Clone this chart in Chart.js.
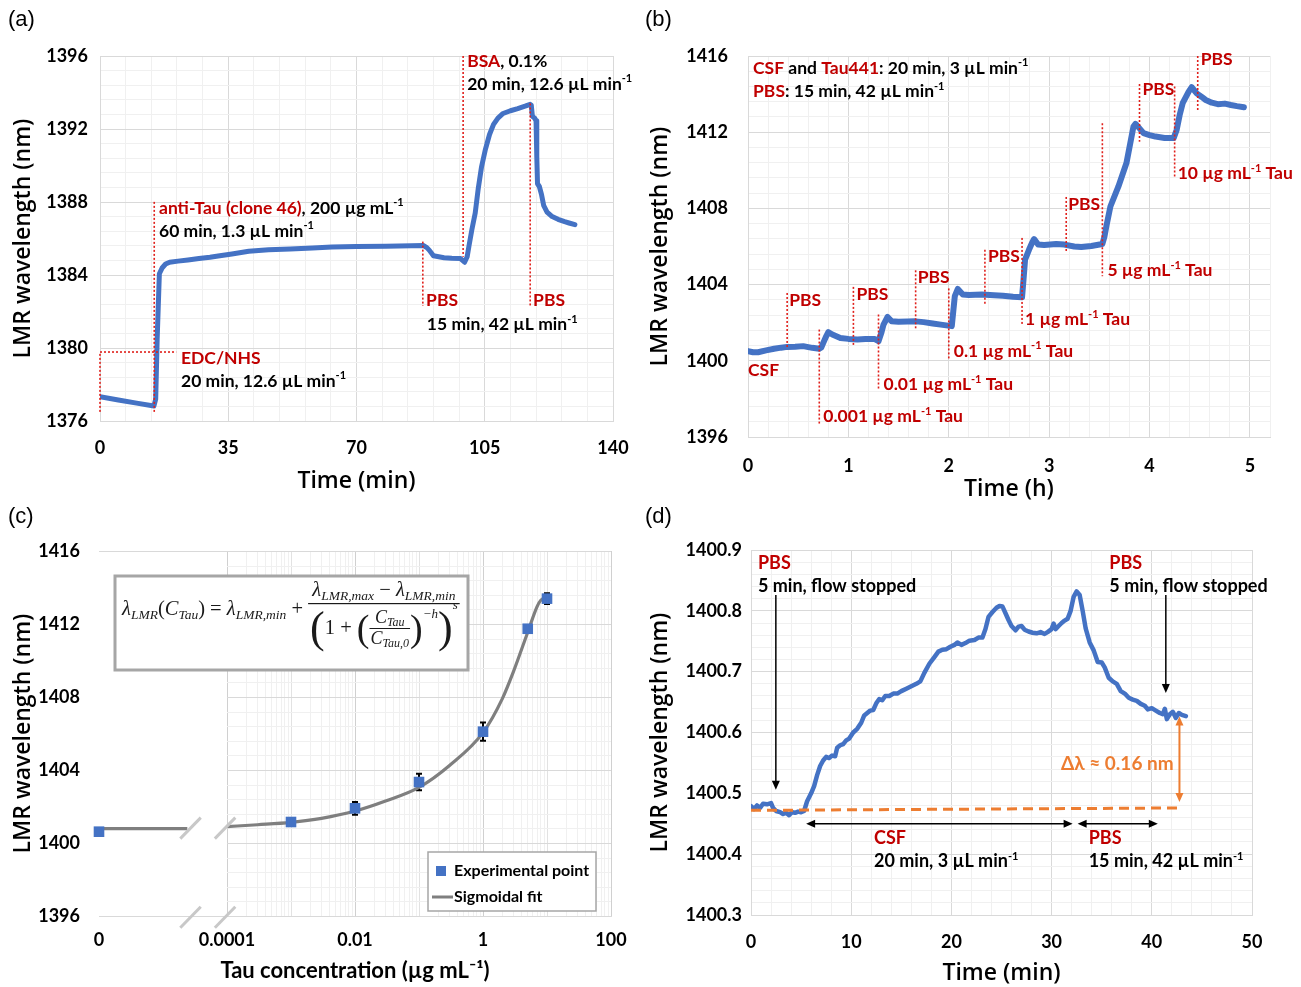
<!DOCTYPE html>
<html>
<head>
<meta charset="utf-8">
<title>LMR sensor response to Tau</title>
<script src="https://cdn.jsdelivr.net/npm/chart.js@4.4.1/dist/chart.umd.min.js"></script>
<style>
  body { margin: 0; background: #fff; }
  #page { position: relative; width: 1301px; height: 987px; overflow: hidden; background: #fff; }
  canvas { position: absolute; }
  .tag { position: absolute; font: 22px "Liberation Sans", Arial, sans-serif; color: #000; }
</style>
</head>
<body>
<div id="page">
  <canvas id="chartA" width="650" height="500" style="left:0;top:0"></canvas>
  <canvas id="chartB" width="654" height="503" style="left:647px;top:0"></canvas>
  <canvas id="chartC" width="650" height="492" style="left:0;top:495px"></canvas>
  <canvas id="chartD" width="654" height="492" style="left:647px;top:495px"></canvas>
  <div class="tag" style="left:8px;top:6px">(a)</div>
  <div class="tag" style="left:645px;top:6px">(b)</div>
  <div class="tag" style="left:8px;top:503px">(c)</div>
  <div class="tag" style="left:645px;top:503px">(d)</div>
</div>
<script>
// (a) functionalisation: EDC/NHS, anti-Tau, PBS, BSA, PBS
var timeA = [0, 5, 10, 14.7, 15.2, 15.6, 16.2, 17, 17.9, 19, 21.3, 24, 27, 30, 32.7, 36, 40.6, 46, 51.9, 58, 63.3, 70, 78, 85, 88.2, 89.2, 89.9, 91, 93.9, 96, 98.4, 99.5, 100.2, 100.7, 101.5, 102.4, 103.2, 104.1, 105.2, 106.3, 107.4, 108.6, 110, 112, 114, 116, 117.4, 117.7, 118, 118.6, 119, 119.2, 119.4, 119.9, 120.5, 121.1, 122, 123.4, 125, 126.8, 128, 129.6];
var lmrA = [1377.33, 1377.15, 1376.98, 1376.82, 1377.2, 1380.5, 1384.07, 1384.4, 1384.6, 1384.7, 1384.76, 1384.82, 1384.9, 1384.97, 1385.05, 1385.15, 1385.3, 1385.38, 1385.43, 1385.48, 1385.53, 1385.56, 1385.58, 1385.6, 1385.62, 1385.5, 1385.35, 1385.05, 1384.95, 1384.92, 1384.9, 1384.7, 1385.0, 1385.6, 1386.5, 1387.4, 1388.7, 1389.9, 1390.9, 1391.7, 1392.25, 1392.6, 1392.85, 1393.0, 1393.12, 1393.25, 1393.35, 1393.3, 1392.7, 1392.6, 1392.45, 1390.5, 1389.0, 1388.85, 1388.4, 1387.8, 1387.45, 1387.2, 1387.05, 1386.92, 1386.85, 1386.76];

// (b) Tau in CSF, increasing concentration steps
var timeB = [0, 0.05, 0.1, 0.18, 0.26, 0.33, 0.39, 0.47, 0.55, 0.6, 0.64, 0.71, 0.73, 0.75, 0.78, 0.8, 0.84, 0.92, 1.0, 1.09, 1.17, 1.26, 1.3, 1.33, 1.35, 1.39, 1.43, 1.5, 1.59, 1.67, 1.75, 1.84, 1.92, 2.03, 2.045, 2.06, 2.09, 2.14, 2.2, 2.33, 2.45, 2.54, 2.64, 2.73, 2.745, 2.76, 2.8, 2.83, 2.85, 2.89, 2.95, 3.07, 3.15, 3.25, 3.32, 3.42, 3.53, 3.55, 3.57, 3.61, 3.69, 3.77, 3.84, 3.86, 3.9, 3.94, 4.0, 4.06, 4.15, 4.24, 4.27, 4.3, 4.33, 4.39, 4.42, 4.47, 4.52, 4.56, 4.62, 4.68, 4.75, 4.81, 4.87, 4.94];
var lmrB = [1400.51, 1400.45, 1400.45, 1400.55, 1400.63, 1400.69, 1400.73, 1400.74, 1400.77, 1400.72, 1400.68, 1400.63, 1400.7, 1400.94, 1401.3, 1401.5, 1401.38, 1401.2, 1401.15, 1401.12, 1401.14, 1401.15, 1401.03, 1401.5, 1401.9, 1402.3, 1402.08, 1402.05, 1402.06, 1402.07, 1402.03, 1401.96, 1401.9, 1401.82, 1402.6, 1403.39, 1403.77, 1403.48, 1403.45, 1403.48, 1403.44, 1403.42, 1403.36, 1403.33, 1404.3, 1405.31, 1405.84, 1406.2, 1406.39, 1406.1, 1406.08, 1406.13, 1406.1, 1406.0, 1405.97, 1406.03, 1406.13, 1406.5, 1407.06, 1408.1, 1409.15, 1410.38, 1412.3, 1412.44, 1412.2, 1411.95, 1411.85, 1411.77, 1411.7, 1411.69, 1412.12, 1412.9, 1413.52, 1414.13, 1414.36, 1414.04, 1413.85, 1413.69, 1413.55, 1413.47, 1413.5, 1413.43, 1413.37, 1413.31];

// (c) calibration: concentration (µg/mL), mean shift, error
var tauConc = [0, 0.001, 0.01, 0.1, 1, 5, 10];
var lmrMean = [1400.62, 1401.15, 1401.9, 1403.34, 1406.1, 1411.74, 1413.39];
var lmrErr = [0.1, 0.1, 0.35, 0.45, 0.5, 0.15, 0.3];
var fitConc = [0.0001, 0.0003, 0.001, 0.003, 0.01, 0.03, 0.1, 0.3, 1, 2, 3, 5, 7, 8, 10];
var fitLmr = [1400.9, 1401.0, 1401.13, 1401.35, 1401.75, 1402.3, 1403.05, 1404.25, 1406.05, 1407.9, 1409.4, 1411.55, 1412.95, 1413.3, 1413.45];
var fitZero = 1400.79;
var concTickValues = [0, 0.0001, 0.01, 1, 100];
var concTickLabels = ['0', '0.0001', '0.01', '1', '100'];

// (d) blank CSF injection
var timeD = [0, 0.3, 0.6, 0.9, 1.2, 1.6, 2.0, 2.2, 2.5, 2.9, 3.2, 3.5, 3.8, 4.1, 4.4, 4.7, 5.0, 5.3, 5.6, 6.0, 6.3, 6.6, 6.9, 7.2, 7.5, 7.8, 8.1, 8.4, 8.6, 8.9, 9.2, 9.5, 9.8, 10.2, 10.6, 11.0, 11.3, 11.6, 11.9, 12.2, 12.5, 12.8, 13.1, 13.4, 13.8, 14.2, 14.6, 15.0, 15.5, 16.0, 16.5, 16.9, 17.3, 17.8, 18.3, 18.7, 19.1, 19.5, 19.9, 20.3, 20.6, 21.0, 21.4, 21.8, 22.3, 22.7, 23.1, 23.4, 23.7, 24.1, 24.5, 24.8, 25.1, 25.4, 25.7, 26.0, 26.4, 26.7, 27.0, 27.3, 27.7, 28.1, 28.5, 28.9, 29.3, 29.6, 30.0, 30.2, 30.4, 30.7, 31.0, 31.3, 31.6, 31.9, 32.2, 32.5, 32.8, 33.1, 33.4, 33.8, 34.2, 34.6, 35.0, 35.3, 35.7, 36.1, 36.5, 36.9, 37.3, 37.7, 38.1, 38.5, 38.9, 39.3, 39.6, 40.0, 40.4, 40.8, 41.1, 41.3, 41.5, 41.8, 42.1, 42.4, 42.7, 43.0, 43.4];
var lmrD = [1400.479, 1400.474, 1400.480, 1400.476, 1400.483, 1400.482, 1400.484, 1400.476, 1400.471, 1400.469, 1400.466, 1400.468, 1400.464, 1400.469, 1400.468, 1400.470, 1400.469, 1400.471, 1400.487, 1400.500, 1400.512, 1400.530, 1400.545, 1400.554, 1400.560, 1400.558, 1400.562, 1400.561, 1400.575, 1400.579, 1400.581, 1400.587, 1400.590, 1400.600, 1400.606, 1400.616, 1400.628, 1400.632, 1400.636, 1400.637, 1400.648, 1400.655, 1400.653, 1400.660, 1400.660, 1400.664, 1400.664, 1400.668, 1400.672, 1400.676, 1400.680, 1400.684, 1400.698, 1400.713, 1400.724, 1400.733, 1400.736, 1400.737, 1400.741, 1400.744, 1400.748, 1400.744, 1400.747, 1400.751, 1400.752, 1400.756, 1400.756, 1400.770, 1400.790, 1400.798, 1400.805, 1400.808, 1400.807, 1400.796, 1400.785, 1400.775, 1400.768, 1400.774, 1400.775, 1400.769, 1400.766, 1400.764, 1400.763, 1400.765, 1400.762, 1400.765, 1400.770, 1400.779, 1400.770, 1400.775, 1400.780, 1400.784, 1400.787, 1400.800, 1400.823, 1400.832, 1400.826, 1400.800, 1400.771, 1400.748, 1400.735, 1400.716, 1400.715, 1400.707, 1400.690, 1400.684, 1400.680, 1400.668, 1400.664, 1400.657, 1400.654, 1400.652, 1400.647, 1400.644, 1400.638, 1400.640, 1400.636, 1400.632, 1400.630, 1400.639, 1400.622, 1400.630, 1400.634, 1400.624, 1400.632, 1400.629, 1400.627];
var baseTime = [0, 43];
var baseLmr = [1400.472, 1400.476];
var deltaLambda = 0.16;

Chart.defaults.animation = false;
Chart.defaults.plugins.legend.display = false;
Chart.defaults.plugins.tooltip.enabled = false;
Chart.defaults.color = '#000';

var BLUE = '#4472C4', RED = '#C00000', DOT_RED = '#E0201B', ORANGE = '#ED7D31', INK = '#000';
var GRID_MAJOR = '#d9d9d9', GRID_MINOR = '#f0f0f0';
var tickFont = {family: 'Lato', size: 18, weight: 'bold'};
var titleFont = {family: '"Open Sans"', size: 23, weight: '600'};

function xy(xs, ys) { return xs.map(function(x, i){ return {x: x, y: ys[i]}; }); }
function onStep(v, base, every) { var k = (v - base) / every; return Math.abs(k - Math.round(k)) < 1e-6; }

// linear axis with a minor grid every `step` and labels every `every`
function axis(min, max, step, every, fmt, pad, size, title, tpad) {
    return {
        type: 'linear', min: min, max: max,
        afterFit: function(s){ if (s.isHorizontal()) s.height = size; else s.width = size; },
        ticks: {stepSize: step, autoSkip: false, maxRotation: 0, padding: pad, font: tickFont, color: INK,
            callback: function(v){ return onStep(v, min, every) ? fmt(v) : ''; }},
        grid: {drawTicks: false, color: function(c){ return onStep(c.tick.value, min, every) ? GRID_MAJOR : GRID_MINOR; }},
        border: {color: GRID_MAJOR},
        title: {display: true, text: title, font: titleFont, color: INK, padding: tpad}
    };
}

function trace(points, width) {
    return {data: points, showLine: true, borderColor: BLUE, borderWidth: width, pointRadius: 0,
        borderJoinStyle: 'round', borderCapStyle: 'round', tension: 0};
}

function overlay(draw) {
    return {id: 'notes', afterDatasetsDraw: function(chart){ var ctx = chart.ctx; ctx.save(); draw(chart, ctx); ctx.restore(); }};
}

function X(chart, v) { return chart.scales.x.getPixelForValue(v); }
function Y(chart, v) { return chart.scales.y.getPixelForValue(v); }

function dotted(chart, ctx, x0, y0, x1, y1) {
    ctx.save();
    ctx.strokeStyle = DOT_RED; ctx.lineWidth = 1.6; ctx.setLineDash([2, 2]);
    ctx.beginPath(); ctx.moveTo(X(chart, x0), Y(chart, y0)); ctx.lineTo(X(chart, x1), Y(chart, y1)); ctx.stroke();
    ctx.restore();
}

// text runs: [text, colour, superscript?], anchored by left edge / vertical centre
var noteSize = 17.5;
function write(chart, ctx, x, y, runs, size) {
    size = size || noteSize;
    var px = X(chart, x), py = Y(chart, y);
    ctx.textBaseline = 'middle'; ctx.textAlign = 'left';
    runs.forEach(function(r){
        var s = r[2] ? Math.round(size * 0.62) : size;
        ctx.font = 'bold ' + s + 'px Lato';
        ctx.fillStyle = r[1];
        ctx.fillText(r[0], px, r[2] ? py - size * 0.3 : py);
        px += ctx.measureText(r[0]).width;
    });
    return px;
}
function perMin(text) { return [[text, INK], ['-1', INK, 1]]; }
function tauLabel(conc) { return [[conc + ' µg mL', RED], ['-1', RED, 1], [' Tau', RED]]; }

function arrow(ctx, x0, y0, x1, y1, color, lw, both) {
    var a = Math.atan2(y1 - y0, x1 - x0), L = 9, W = 4;
    ctx.strokeStyle = color; ctx.fillStyle = color; ctx.lineWidth = lw;
    function head(x, y, ang) {
        ctx.beginPath(); ctx.moveTo(x, y);
        ctx.lineTo(x - L * Math.cos(ang) + W * Math.sin(ang), y - L * Math.sin(ang) - W * Math.cos(ang));
        ctx.lineTo(x - L * Math.cos(ang) - W * Math.sin(ang), y - L * Math.sin(ang) + W * Math.cos(ang));
        ctx.closePath(); ctx.fill();
    }
    var sx = both ? x0 + 6 * Math.cos(a) : x0, sy = both ? y0 + 6 * Math.sin(a) : y0;
    ctx.beginPath(); ctx.moveTo(sx, sy); ctx.lineTo(x1 - 6 * Math.cos(a), y1 - 6 * Math.sin(a)); ctx.stroke();
    head(x1, y1, a);
    if (both) head(x0, y0, a + Math.PI);
}

/* ---------- (a) ---------- */
new Chart(document.getElementById('chartA'), {
    type: 'scatter',
    data: {datasets: [trace(xy(timeA, lmrA), 5)]},
    options: {
        responsive: false,
        layout: {padding: {top: 56, right: 37, left: 0, bottom: 0}},
        scales: {
            x: axis(0, 140, 7, 35, function(v){ return v; }, 16, 79, 'Time (min)', {top: 0, bottom: 5}),
            y: axis(1376, 1396, 0.8, 4, function(v){ return v; }, 12, 100, 'LMR wavelength (nm)', {top: 10, bottom: 0})
        }
    },
    plugins: [overlay(function(c, ctx){
        dotted(c, ctx, 0, 1376.5, 0, 1379.78);
        dotted(c, ctx, 0, 1379.78, 20.8, 1379.78);
        dotted(c, ctx, 14.8, 1376.5, 14.8, 1388.1);
        dotted(c, ctx, 88.1, 1385.83, 88.1, 1382.3);
        dotted(c, ctx, 99.1, 1396, 99.1, 1385.0);
        dotted(c, ctx, 117.4, 1393.4, 117.4, 1382.3);
        write(c, ctx, 16.1, 1387.67, [['anti-Tau (clone 46)', RED], [', 200 µg mL', INK], ['-1', INK, 1]]);
        write(c, ctx, 16.1, 1386.41, perMin('60 min, 1.3 µL min'));
        write(c, ctx, 22.1, 1379.45, [['EDC/NHS', RED]]);
        write(c, ctx, 22.1, 1378.19, perMin('20 min, 12.6 µL min'));
        write(c, ctx, 89.0, 1382.63, [['PBS', RED]]);
        write(c, ctx, 118.2, 1382.63, [['PBS', RED]]);
        write(c, ctx, 89.2, 1381.3, perMin('15 min, 42 µL min'));
        write(c, ctx, 100.2, 1395.73, [['BSA', RED], [', 0.1%', INK]]);
        write(c, ctx, 100.2, 1394.47, perMin('20 min, 12.6 µL min'));
    })]
});

/* ---------- (b) ---------- */
var injB = [[0.39, 1403.56, 1400.73], [0.71, 1401.64, 1396.66], [1.05, 1403.88, 1400.77], [1.30, 1402.43, 1398.5],
    [1.67, 1404.75, 1401.68], [2.00, 1403.8, 1400.12], [2.36, 1405.83, 1403.0], [2.73, 1406.45, 1401.9],
    [3.17, 1408.6, 1405.75], [3.53, 1412.47, 1404.44], [3.90, 1414.53, 1411.5], [4.25, 1414.4, 1409.6], [4.48, 1416, 1413.1]];

new Chart(document.getElementById('chartB'), {
    type: 'scatter',
    data: {datasets: [trace(xy(timeB, lmrB), 6)]},
    options: {
        responsive: false,
        layout: {padding: {top: 56, right: 31, left: 0, bottom: 0}},
        scales: {
            x: axis(0, 5.2, 0.2, 1, function(v){ return v; }, 18, 66, 'Time (h)', {top: 0, bottom: 0}),
            y: axis(1396, 1416, 0.8, 4, function(v){ return v; }, 20, 101, 'LMR wavelength (nm)', {top: 0, bottom: 0})
        }
    },
    plugins: [overlay(function(c, ctx){
        injB.forEach(function(l){ dotted(c, ctx, l[0], l[1], l[0], l[2]); });
        write(c, ctx, 0.05, 1415.37, [['CSF', RED], [' and ', INK], ['Tau441', RED], [': 20 min, 3 µL min', INK], ['-1', INK, 1]]);
        write(c, ctx, 0.05, 1414.13, [['PBS', RED], [': 15 min, 42 µL min', INK], ['-1', INK, 1]]);
        write(c, ctx, 0.0, 1399.52, [['CSF', RED]]);
        [[0.41, 1403.19], [1.08, 1403.5], [1.69, 1404.4], [2.39, 1405.5], [3.19, 1408.23], [3.93, 1414.27], [4.51, 1415.83]]
            .forEach(function(p){ write(c, ctx, p[0], p[1], [['PBS', RED]]); });
        write(c, ctx, 0.75, 1397.07, tauLabel('0.001'));
        write(c, ctx, 1.35, 1398.76, tauLabel('0.01'));
        write(c, ctx, 2.05, 1400.51, tauLabel('0.1'));
        write(c, ctx, 2.76, 1402.18, tauLabel('1'));
        write(c, ctx, 3.58, 1404.73, tauLabel('5'));
        write(c, ctx, 4.28, 1409.84, tauLabel('10'));
    })]
});

/* ---------- (c) ---------- */
// position on the broken log axis: zero sits two decades left of 1e-4
function logPos(c) { return c === 0 ? -6 : Math.log10(c); }
var posMajor = concTickValues.map(logPos);
var breakAt = -4.62;

function drawFormula(ctx, bx, by) {
    function it(s) { return 'italic ' + s + 'px "Liberation Serif"'; }
    function rm(s) { return s + 'px "Liberation Serif"'; }
    var M = 20.5, S = 13.5;
    ctx.fillStyle = '#1a1a1a'; ctx.textBaseline = 'alphabetic'; ctx.textAlign = 'left';
    function measure(runs) { return runs.reduce(function(w, r){ ctx.font = r[1]; return w + ctx.measureText(r[0]).width; }, 0); }
    function put(x, y, runs) {
        runs.forEach(function(r){ ctx.font = r[1]; ctx.fillText(r[0], x, y + (r[2] || 0)); x += ctx.measureText(r[0]).width; });
        return x;
    }
    var x = put(bx + 7, by + 39, [['λ', it(M)], ['LMR', it(S), 4], ['(', rm(M)], ['C', it(M)], ['Tau', it(S), 4], [')', rm(M)],
        [' = ', rm(M)], ['λ', it(M)], ['LMR,min', it(S), 4], [' + ', rm(M)]]);
    var num = [['λ', it(M)], ['LMR,max', it(S), 4], [' − ', rm(M)], ['λ', it(M)], ['LMR,min', it(S), 4]];
    var inTop = [['C', it(18)], ['Tau', it(12), 3]];
    var inBot = [['C', it(18)], ['Tau,0', it(12), 3]];
    var wIn = Math.max(measure(inTop), measure(inBot)) + 2;
    var BIG = 44, MID = 38;
    ctx.font = rm(BIG); var wBig = ctx.measureText('(').width;
    ctx.font = rm(MID); var wMid = ctx.measureText('(').width;
    var wOne = measure([['1 + ', rm(M)]]);
    var wH = measure([['−h', it(13)]]);
    var wS = measure([['s', it(13)]]);
    var wDen = wBig + wOne + wMid + wIn + wMid + wH + wBig + wS;
    var wNum = measure(num);
    var wBar = Math.max(wNum, wDen) + 4;
    ctx.fillRect(x, by + 27, wBar, 1.2);
    put(x + (wBar - wNum) / 2, by + 20, num);
    var d = x + (wBar - wDen) / 2;
    ctx.font = rm(BIG); ctx.fillText('(', d, by + 66); d += wBig;
    d = put(d, by + 58, [['1 + ', rm(M)]]);
    ctx.font = rm(MID); ctx.fillText('(', d, by + 65); d += wMid;
    put(d + (wIn - measure(inTop)) / 2, by + 47, inTop);
    ctx.fillRect(d, by + 52, wIn, 1);
    put(d + (wIn - measure(inBot)) / 2, by + 68, inBot);
    d += wIn;
    ctx.font = rm(MID); ctx.fillText(')', d, by + 65); d += wMid;
    d = put(d, by + 42, [['−h', it(13)]]);
    ctx.font = rm(BIG); ctx.fillText(')', d, by + 66); d += wBig;
    put(d, by + 33, [['s', it(13)]]);
}

var gridC = {
    id: 'gridC',
    beforeDatasetsDraw: function(c) {
        var ctx = c.ctx, a = c.chartArea, x0 = X(c, -4);
        ctx.save();
        ctx.lineWidth = 1;
        c.scales.y.ticks.forEach(function(t){
            var y = Math.round(Y(c, t.value)) + 0.5;
            var top = Math.abs(t.value - 1416) < 1e-6;
            ctx.strokeStyle = onStep(t.value, 1396, 4) ? GRID_MAJOR : GRID_MINOR;
            ctx.beginPath(); ctx.moveTo(top ? a.left : x0, y); ctx.lineTo(a.right, y); ctx.stroke();
        });
        // error bars
        ctx.strokeStyle = '#000'; ctx.lineWidth = 2;
        tauConc.forEach(function(cv, i){
            var px = X(c, logPos(cv)), y0 = Y(c, lmrMean[i] - lmrErr[i]), y1 = Y(c, lmrMean[i] + lmrErr[i]);
            ctx.beginPath(); ctx.moveTo(px, y0); ctx.lineTo(px, y1);
            ctx.moveTo(px - 3, y0); ctx.lineTo(px + 3, y0); ctx.moveTo(px - 3, y1); ctx.lineTo(px + 3, y1); ctx.stroke();
        });
        ctx.restore();
    }
};

new Chart(document.getElementById('chartC'), {
    type: 'scatter',
    data: {datasets: [
        {data: tauConc.map(function(cv, i){ return {x: logPos(cv), y: lmrMean[i]}; }), pointStyle: 'rect', pointRadius: 7.5,
            backgroundColor: BLUE, borderWidth: 0, clip: false},
        {data: fitConc.map(function(cv, i){ return {x: logPos(cv), y: fitLmr[i]}; }), showLine: true, borderColor: '#7f7f7f',
            borderWidth: 3.2, pointRadius: 0, cubicInterpolationMode: 'monotone'},
        {data: [{x: logPos(0), y: fitZero}, {x: breakAt, y: fitZero}], showLine: true, borderColor: '#7f7f7f',
            borderWidth: 3.2, pointRadius: 0}
    ]},
    options: {
        responsive: false,
        layout: {padding: {top: 56, right: 39, left: 0, bottom: 0}},
        scales: {
            x: {
                type: 'linear', min: -6, max: 2,
                afterFit: function(s){ s.height = 71; },
                afterBuildTicks: function(s){
                    var t = [posMajor[0]];
                    for (var d = -4; d < 2; d++) for (var k = 1; k < 10; k++) t.push(d + Math.log10(k));
                    t.push(2);
                    s.ticks = t.map(function(v){ return {value: v}; });
                },
                ticks: {autoSkip: false, maxRotation: 0, padding: 13, font: tickFont, color: INK,
                    callback: function(v){
                        var i = posMajor.findIndex(function(p){ return Math.abs(p - v) < 1e-9; });
                        return i >= 0 ? concTickLabels[i] : '';
                    }},
                grid: {drawTicks: false, color: function(g){
                    var v = g.tick.value;
                    if (v < -4 - 1e-9) return 'rgba(0,0,0,0)';
                    if (posMajor.some(function(p){ return Math.abs(p - v) < 1e-9; })) return '#d0d0d0';
                    if (Math.abs(v - Math.round(v)) < 1e-9) return '#e2e2e2';
                    return GRID_MINOR;
                }},
                border: {color: GRID_MAJOR},
                title: {display: true, text: 'Tau concentration (µg mL⁻¹)', font: {family: 'Lato', size: 22, weight: 'bold'},
                    color: INK, padding: {top: 0, bottom: 3}}
            },
            y: (function(){
                var y = axis(1396, 1416, 0.8, 4, function(v){ return v; }, 11, 99, 'LMR wavelength (nm)', {top: 10, bottom: 0});
                y.grid = {display: false}; y.border = {display: false};
                return y;
            })()
        }
    },
    plugins: [gridC, overlay(function(c, ctx){
        var a = c.chartArea;
        // axis-break slashes on the curve and on the x axis
        ctx.strokeStyle = '#c8c8c8'; ctx.lineWidth = 3;
        [[1400.24, 1401.39], [1395.36, 1396.51]].forEach(function(h){
            [[-4.73, -4.41], [-4.19, -3.87]].forEach(function(s){
                ctx.beginPath(); ctx.moveTo(X(c, s[0]), Y(c, h[0])); ctx.lineTo(X(c, s[1]), Y(c, h[1])); ctx.stroke();
            });
        });
        // equation box
        var bx = a.left + 16, by = a.top + 25;
        ctx.fillStyle = '#fff'; ctx.fillRect(bx, by, 353, 94);
        ctx.strokeStyle = '#a6a6a6'; ctx.lineWidth = 3; ctx.strokeRect(bx, by, 353, 94);
        drawFormula(ctx, bx, by);
        // legend
        var l = a.right - 183, t = a.bottom - 64;
        ctx.fillStyle = '#fff'; ctx.fillRect(l, t, 168, 59);
        ctx.strokeStyle = '#a6a6a6'; ctx.lineWidth = 1.5; ctx.strokeRect(l, t, 168, 59);
        ctx.fillStyle = BLUE; ctx.fillRect(l + 8, t + 14, 10, 10);
        ctx.strokeStyle = '#7f7f7f'; ctx.lineWidth = 3;
        ctx.beginPath(); ctx.moveTo(l + 4, t + 45); ctx.lineTo(l + 25, t + 45); ctx.stroke();
        ctx.fillStyle = '#000'; ctx.font = 'bold 16px Lato'; ctx.textBaseline = 'middle'; ctx.textAlign = 'left';
        ctx.fillText('Experimental point', l + 26, t + 19);
        ctx.fillText('Sigmoidal fit', l + 26, t + 45);
    })]
});

/* ---------- (d) ---------- */
new Chart(document.getElementById('chartD'), {
    type: 'scatter',
    data: {datasets: [
        {data: xy(baseTime, baseLmr), showLine: true, borderColor: ORANGE, borderWidth: 3, borderDash: [10, 6], pointRadius: 0},
        trace(xy(timeD, lmrD), 4.5)
    ]},
    options: {
        responsive: false,
        layout: {padding: {top: 55, right: 49, left: 0, bottom: 0}},
        scales: {
            x: axis(0, 50, 2, 10, function(v){ return v; }, 16, 72, 'Time (min)', {top: 0, bottom: 0}),
            y: axis(1400.3, 1400.9, 0.02, 0.1, function(v){ return v.toFixed(1); }, 9, 104, 'LMR wavelength (nm)', {top: 0, bottom: 0})
        }
    },
    plugins: [overlay(function(c, ctx){
        arrow(ctx, X(c, 2.48), Y(c, 1400.826), X(c, 2.48), Y(c, 1400.506), '#000', 1.5, false);
        arrow(ctx, X(c, 41.4), Y(c, 1400.826), X(c, 41.4), Y(c, 1400.665), '#000', 1.5, false);
        arrow(ctx, X(c, 5.5), Y(c, 1400.45), X(c, 32.1), Y(c, 1400.45), '#000', 1.5, true);
        arrow(ctx, X(c, 32.6), Y(c, 1400.45), X(c, 40.6), Y(c, 1400.45), '#000', 1.5, true);
        var base = baseLmr[baseLmr.length - 1], ax = X(c, 42.76);
        arrow(ctx, ax, Y(c, base) - 6, ax, Y(c, base + deltaLambda) + 6, ORANGE, 2, true);
        write(c, ctx, 0.69, 1400.879, [['PBS', RED]], 18);
        write(c, ctx, 0.69, 1400.841, [['5 min, flow stopped', INK]], 18);
        write(c, ctx, 35.76, 1400.879, [['PBS', RED]], 18);
        write(c, ctx, 35.76, 1400.841, [['5 min, flow stopped', INK]], 18);
        write(c, ctx, 12.28, 1400.426, [['CSF', RED]], 18);
        write(c, ctx, 12.28, 1400.388, perMin('20 min, 3 µL min'), 18);
        write(c, ctx, 33.7, 1400.426, [['PBS', RED]], 18);
        write(c, ctx, 33.7, 1400.388, perMin('15 min, 42 µL min'), 18);
        ctx.font = 'bold 19px Lato'; ctx.fillStyle = ORANGE; ctx.textAlign = 'right'; ctx.textBaseline = 'middle';
        ctx.fillText('Δλ ≈ ' + deltaLambda.toFixed(2) + ' nm', X(c, 42.18), Y(c, 1400.549));
    })]
});
</script>
</body>
</html>
